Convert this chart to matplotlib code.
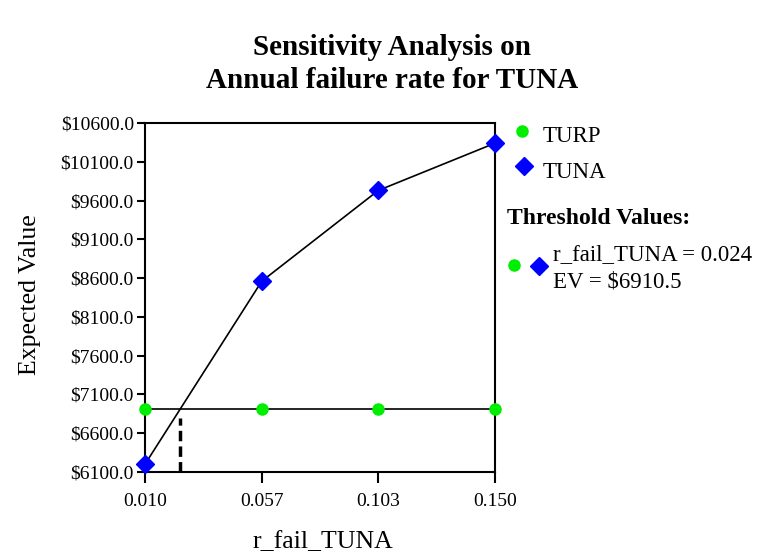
import matplotlib
matplotlib.use("Agg")
import matplotlib.pyplot as plt
from matplotlib.lines import Line2D
import numpy as np

plt.rcParams['font.family'] = ['Liberation Serif', 'DejaVu Serif']

# Data
x_vals = [0.010, 0.0567, 0.1033, 0.150]
x_ticklabels = ["0.010", "0.057", "0.103", "0.150"]
turp = [6910.5, 6910.5, 6910.5, 6910.5]
tuna = [6200.0, 8560.0, 9730.0, 10340.0]
y_ticks = [6100, 6600, 7100, 7600, 8100, 8600, 9100, 9600, 10100, 10600]
threshold_x = 0.024
threshold_ev = 6910.5

fig = plt.figure(figsize=(7.59, 5.52), dpi=100)
ax = fig.add_axes([145/759, 1-472/552, 350/759, 349/552])

ax.plot(x_vals, turp, color='black', lw=1.2, zorder=2)
ax.plot(x_vals, tuna, color='black', lw=1.2, zorder=2)
ax.plot(x_vals, turp, ls='none', marker='o', color='#00ee00', ms=8, zorder=3, clip_on=False)
ax.plot(x_vals, tuna, ls='none', marker='D', color='#0000ff', ms=9, zorder=3, clip_on=False)
ax.plot([threshold_x, threshold_x], [6100, threshold_ev - 110], color='black', lw=2.5,
        ls=(0, (3, 1.5)), zorder=2)

ax.set_xlim(0.010, 0.150)
ax.set_ylim(6100, 10600)
ax.set_xticks(x_vals)
ax.set_xticklabels(x_ticklabels)
ax.set_yticks(y_ticks)
ax.set_yticklabels(["$%.1f" % v for v in y_ticks])
ax.tick_params(axis='x', direction='out', length=8, width=1.5, pad=7, labelsize=14)
ax.tick_params(axis='y', direction='out', length=6, width=1.5, pad=2, labelsize=14)
for s in ax.spines.values():
    s.set_linewidth(1.5)

fig.text(30/759, 1-295/552, "Expected Value", rotation=90, ha='center', va='center', fontsize=18.5)
fig.text(323/759, 1-542/552, "r_fail_TUNA", ha='center', va='center', fontsize=18.5)

fig.text(392/759, 1-48/552, "Sensitivity Analysis on", ha='center', va='center',
         fontsize=21, fontweight='bold')
fig.text(392/759, 1-80/552, "Annual failure rate for TUNA", ha='center', va='center',
         fontsize=21, fontweight='bold')

# Legend
fig.add_artist(Line2D([522/759], [1-131/552], marker='o', color='#00ee00', ms=8, ls='none'))
fig.text(543/759, 1-137/552, "TURP", ha='left', va='center', fontsize=16.5)
fig.add_artist(Line2D([524/759], [1-166/552], marker='D', color='#0000ff', ms=9, ls='none'))
fig.text(543/759, 1-173/552, "TUNA", ha='left', va='center', fontsize=16.5)
fig.text(507/759, 1-219/552, "Threshold Values:", ha='left', va='center', fontsize=17,
         fontweight='bold')
fig.add_artist(Line2D([514/759], [1-265/552], marker='o', color='#00ee00', ms=8, ls='none'))
fig.add_artist(Line2D([539/759], [1-266/552], marker='D', color='#0000ff', ms=9, ls='none'))
fig.text(553/759, 1-255/552, "r_fail_TUNA = %.3f" % threshold_x, ha='left', va='center', fontsize=16.5)
fig.text(553/759, 1-282/552, "EV = $%.1f" % threshold_ev, ha='left', va='center', fontsize=16.5)

fig.savefig("out.png", dpi=100)
